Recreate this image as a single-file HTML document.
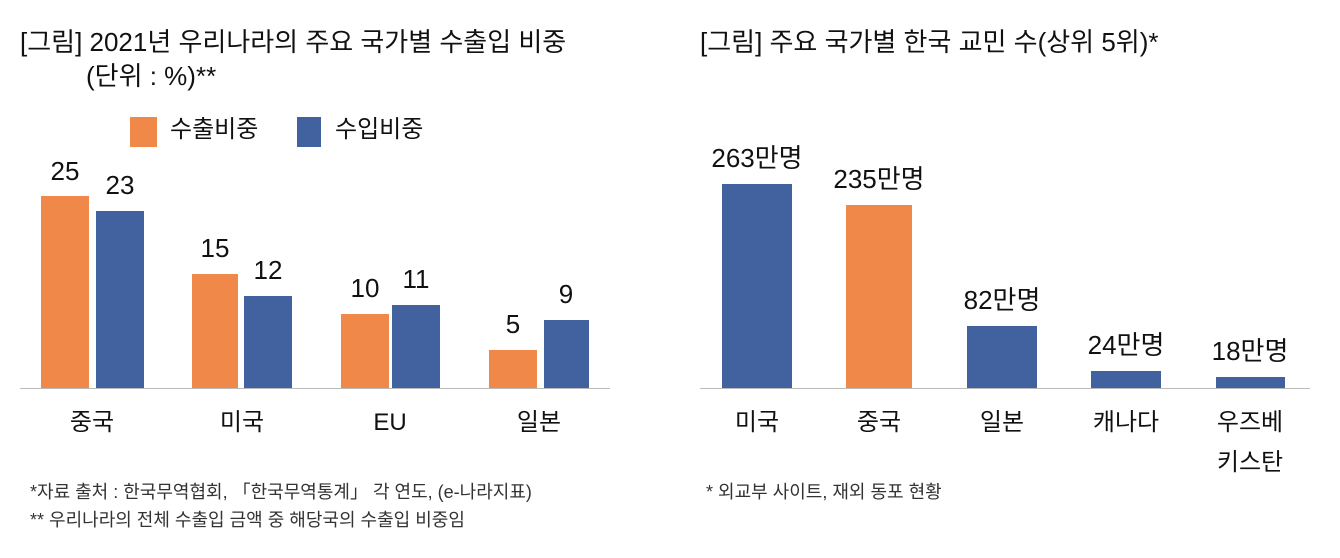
<!DOCTYPE html>
<html><head><meta charset="utf-8"><style>
body{margin:0;width:1340px;height:558px;background:#fff;position:relative;overflow:hidden;font-family:"Liberation Sans","Noto Sans CJK KR",sans-serif;color:#111}
div{position:absolute}
.t{font-size:26px;white-space:nowrap;line-height:1}
.o{background:#F0884A}.b{background:#41629E}
.v{font-size:26px;text-align:center;width:80px;line-height:1}
.c{font-size:24px;text-align:center;width:120px;line-height:1}
.n{font-size:18px;white-space:nowrap;color:#333;line-height:1}
</style></head><body>
<div class="t" style="left:20px;top:29px">[그림] 2021년 우리나라의 주요 국가별 수출입 비중</div>
<div class="t" style="left:86px;top:63px">(단위 : %)**</div>
<div class="o" style="left:130px;top:117px;width:27px;height:30px"></div>
<div class="t" style="left:170px;top:118px;font-size:24px">수출비중</div>
<div class="b" style="left:297px;top:117px;width:24px;height:30px"></div>
<div class="t" style="left:335px;top:118px;font-size:24px">수입비중</div>

<div class="o" style="left:41px;top:196px;width:48px;height:193px"></div>
<div class="b" style="left:96px;top:211px;width:48px;height:178px"></div>
<div class="o" style="left:192px;top:274px;width:46px;height:115px"></div>
<div class="b" style="left:244px;top:296px;width:48px;height:93px"></div>
<div class="o" style="left:341px;top:314px;width:48px;height:75px"></div>
<div class="b" style="left:392px;top:305px;width:48px;height:84px"></div>
<div class="o" style="left:489px;top:350px;width:48px;height:39px"></div>
<div class="b" style="left:544px;top:320px;width:45px;height:69px"></div>
<div style="left:20px;top:388px;width:590px;height:1px;background:#bbb"></div>

<div class="v" style="left:25px;top:158px">25</div>
<div class="v" style="left:80px;top:172px">23</div>
<div class="v" style="left:175px;top:235px">15</div>
<div class="v" style="left:228px;top:257px">12</div>
<div class="v" style="left:325px;top:275px">10</div>
<div class="v" style="left:376px;top:266px">11</div>
<div class="v" style="left:473px;top:311px">5</div>
<div class="v" style="left:526px;top:281px">9</div>

<div class="c" style="left:32px;top:411px">중국</div>
<div class="c" style="left:182px;top:411px">미국</div>
<div class="c" style="left:330px;top:411px">EU</div>
<div class="c" style="left:479px;top:411px">일본</div>

<div class="n" style="left:30px;top:483px">*자료 출처 : 한국무역협회, 「한국무역통계」 각 연도, (e-나라지표)</div>
<div class="n" style="left:30px;top:511px">** 우리나라의 전체 수출입 금액 중 해당국의 수출입 비중임</div>

<div class="t" style="left:700px;top:29px">[그림] 주요 국가별 한국 교민 수(상위 5위)*</div>
<div class="b" style="left:722px;top:184px;width:70px;height:205px"></div>
<div class="o" style="left:846px;top:205px;width:66px;height:184px"></div>
<div class="b" style="left:967px;top:326px;width:70px;height:63px"></div>
<div class="b" style="left:1091px;top:371px;width:70px;height:18px"></div>
<div class="b" style="left:1216px;top:377px;width:69px;height:12px"></div>
<div style="left:700px;top:388px;width:610px;height:1px;background:#bbb"></div>

<div class="c" style="left:697px;top:145px;font-size:26px">263만명</div>
<div class="c" style="left:819px;top:166px;font-size:26px">235만명</div>
<div class="c" style="left:942px;top:287px;font-size:26px">82만명</div>
<div class="c" style="left:1066px;top:332px;font-size:26px">24만명</div>
<div class="c" style="left:1190px;top:338px;font-size:26px">18만명</div>

<div class="c" style="left:697px;top:411px">미국</div>
<div class="c" style="left:819px;top:411px">중국</div>
<div class="c" style="left:942px;top:411px">일본</div>
<div class="c" style="left:1066px;top:411px">캐나다</div>
<div class="c" style="left:1190px;top:411px">우즈베</div>
<div class="c" style="left:1190px;top:451px">키스탄</div>

<div class="n" style="left:706px;top:483px">* 외교부 사이트, 재외 동포 현황</div>
</body></html>
